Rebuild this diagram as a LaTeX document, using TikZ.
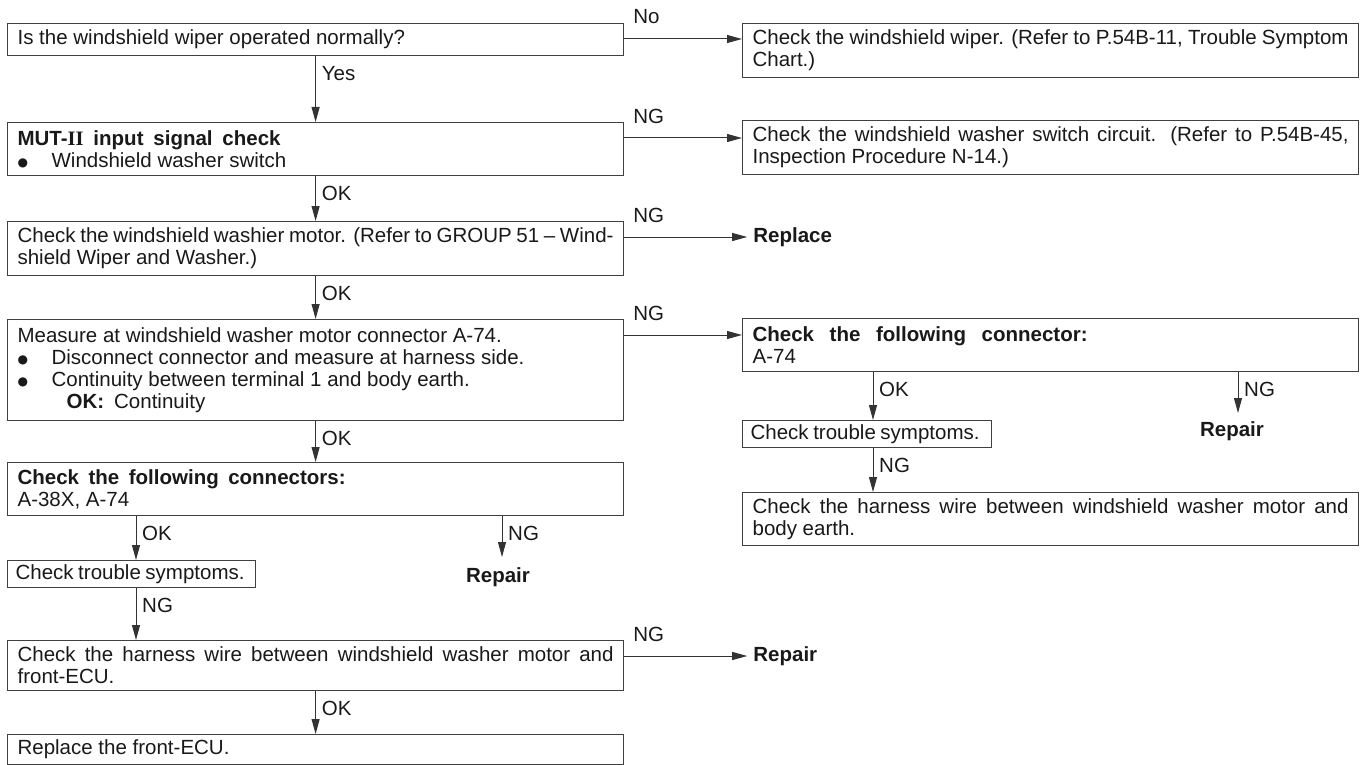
\documentclass[tikz,border=0pt]{standalone}
\usepackage{fontspec}
\setmainfont{Liberation Sans}
\newfontfamily\serifb{Liberation Serif}
\newfontfamily\djv{DejaVu Sans}
\usetikzlibrary{arrows.meta,calc}
\newcommand\fs{\fontsize{20.5pt}{22pt}\selectfont}
\newcommand\bul{\makebox[34pt][l]{\raisebox{1pt}{\djv\fontsize{12pt}{12pt}\selectfont ●}}}
\newcommand\jl[2]{\makebox[#1][s]{#2}}
\tikzset{
  box/.style={draw=black!75, line width=1.2pt, rectangle, anchor=north west,
    inner xsep=10pt, inner ysep=0pt, align=flush left, font=\fs, text=black!90,
    text width=596pt, execute at begin node={\spaceskip=0pt\xspaceskip=0pt}},
  arr/.style={draw=black!80, line width=1pt, -{Triangle[length=15pt,width=8pt]}},
  lbl/.style={font=\fs, inner sep=0pt, anchor=west, text=black!90},
  endtxt/.style={font=\fs\bfseries, inner sep=0pt, text=black!90},
}
\begin{document}
\begin{tikzpicture}[x=1pt,y=-1pt]
\useasboundingbox (0,0) rectangle (1363,765);
% left column
\node[box,minimum height=32pt] (B1) at (7,23) {Is the windshield wiper operated normally?};
\node[box,minimum height=53pt] (B2) at (7,122) {\jl{263pt}{\bfseries MUT-{\serifb II} input signal check}\\\bul Windshield washer switch};
\node[box,minimum height=54pt] (B3) at (7,221) {\jl{596pt}{Check the windshield washier motor. (Refer to GROUP 51 – Wind-}\\shield Wiper and Washer.)};
\node[box,minimum height=101pt] (B4) at (7,319) {Measure at windshield washer motor connector A-74.\\\bul Disconnect connector and measure at harness side.\\\bul Continuity between terminal 1 and body earth.\\\hspace*{49pt}\textbf{OK:}\hspace{10pt}Continuity};
\node[box,minimum height=53pt] (B5) at (7,462) {\jl{328pt}{\bfseries Check the following connectors:}\\A-38X, A-74};
\node[box,text width=232pt,inner xsep=8pt,minimum height=27pt] (LT) at (7,560) {\jl{229pt}{Check trouble symptoms.}};
\node[box,minimum height=50pt] (LH) at (7,640) {\jl{596pt}{Check the harness wire between windshield washer motor and}\\front-ECU.};
\node[box,minimum height=30pt] (LF) at (7,734) {Replace the front-ECU.};
% right column
\node[box,minimum height=54pt] (R1) at (742,23) {\jl{596pt}{Check the windshield wiper. (Refer to P.54B-11, Trouble Symptom}\\Chart.)};
\node[box,minimum height=54pt] (R2) at (742,120) {\jl{596pt}{Check the windshield washer switch circuit. (Refer to P.54B-45,}\\Inspection Procedure N-14.)};
\node[box,minimum height=53pt] (R4) at (742,318) {\jl{335pt}{\bfseries Check the following connector:}\\A-74};
\node[box,text width=233pt,inner xsep=8pt,minimum height=27pt] (RT) at (742,420) {\jl{229pt}{Check trouble symptoms.}};
\node[box,minimum height=53pt] (RH) at (742,492) {\jl{596pt}{Check the harness wire between windshield washer motor and}\\body earth.};
% horizontal branches
\coordinate (o1) at ($(B1.north east)+(0,16)$);
\draw[arr] (o1) -- (o1 -| R1.west);
\node[lbl] (lNo) at ($(o1)+(9,-22)$) {No};
\coordinate (o2) at ($(B2.north east)+(0,16)$);
\draw[arr] (o2) -- (o2 -| R2.west);
\node[lbl] (lNG2) at ($(o2)+(9,-22)$) {NG};
\coordinate (o3) at ($(B3.north east)+(0,16)$);
\coordinate (t3) at ($(o3)+(123,0)$);
\draw[arr] (o3) -- (t3);
\node[lbl] (lNG3) at ($(o3)+(9,-22)$) {NG};
\node[endtxt,anchor=west] (rep1) at ($(t3)+(6,0)$) {Replace};
\coordinate (o4) at ($(B4.north east)+(0,16)$);
\draw[arr] (o4) -- (o4 -| R4.west);
\node[lbl] (lNG4) at ($(o4)+(9,-22)$) {NG};
\coordinate (o5) at ($(LH.north east)+(0,16)$);
\coordinate (t5) at ($(o5)+(123,0)$);
\draw[arr] (o5) -- (t5);
\node[lbl] (lNG5) at ($(o5)+(9,-22)$) {NG};
\node[endtxt,anchor=west] (rep2) at ($(t5)+(6,0)$) {Repair};
% main vertical chain
\draw[arr] (B1.south) -- (B2.north);
\node[lbl] (lYes) at ($(B1.south)+(6,17)$) {Yes};
\draw[arr] (B2.south) -- (B3.north);
\node[lbl] (lOK2) at ($(B2.south)+(6,17)$) {OK};
\draw[arr] (B3.south) -- (B4.north);
\node[lbl] (lOK3) at ($(B3.south)+(6,17)$) {OK};
\draw[arr] (B4.south) -- (B5.north);
\node[lbl] (lOK4) at ($(B4.south)+(6,17)$) {OK};
\draw[arr] (LH.south) -- (LF.north);
\node[lbl] (lOK6) at ($(LH.south)+(6,17)$) {OK};
% left lower branches
\coordinate (xl) at (136,0);
\draw[arr] (B5.south -| xl) -- (LT.north -| xl);
\node[lbl] (lOK5) at ($(B5.south -| xl)+(6,17)$) {OK};
\draw[arr] (LT.south -| xl) -- (LH.north -| xl);
\node[lbl] (lNG6) at ($(LT.south -| xl)+(6,17)$) {NG};
\coordinate (t6) at (502,557);
\draw[arr] (B5.south -| t6) -- (t6);
\node[lbl] (lNG7) at ($(B5.south -| t6)+(6,17)$) {NG};
\node[endtxt] (rep3) at (498,577) {Repair};
% right lower branches
\coordinate (xr) at (873,0);
\draw[arr] (R4.south -| xr) -- (RT.north -| xr);
\node[lbl] (lOK7) at ($(R4.south -| xr)+(6,17)$) {OK};
\draw[arr] (RT.south -| xr) -- (RH.north -| xr);
\node[lbl] (lNG8) at ($(RT.south -| xr)+(6,17)$) {NG};
\coordinate (t7) at (1238,413);
\draw[arr] (R4.south -| t7) -- (t7);
\node[lbl] (lNG9) at ($(R4.south -| t7)+(6,17)$) {NG};
\node[endtxt] (rep4) at (1232,431) {Repair};
\end{tikzpicture}
\end{document}
